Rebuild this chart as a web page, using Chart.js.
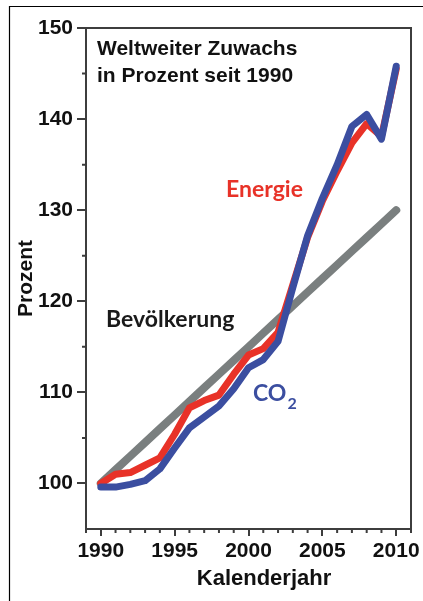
<!DOCTYPE html>
<html>
<head>
<meta charset="utf-8">
<script src="https://cdn.jsdelivr.net/npm/chart.js@4/dist/chart.umd.min.js"></script>
<style>
  html, body { margin: 0; padding: 0; background: #fff; }
  #wrap { width: 423px; height: 601px; }
</style>
</head>
<body>
<div id="wrap"><canvas id="c" width="423" height="601"></canvas></div>
<script>
// ---- data ----
const years = [1990,1991,1992,1993,1994,1995,1996,1997,1998,1999,2000,2001,2002,2003,2004,2005,2006,2007,2008,2009,2010];
const bevoelkerung = [100.0,101.5,103.0,104.5,106.0,107.5,109.0,110.5,112.0,113.5,115.0,116.5,118.0,119.5,121.0,122.5,124.0,125.5,127.0,128.5,130.0];
const energie = [100.0,101.0,101.2,102.0,102.8,105.4,108.3,109.1,109.7,112.0,114.1,114.8,116.6,121.8,127.0,131.0,134.3,137.4,139.5,138.1,145.5];
const co2 = [99.6,99.6,99.9,100.3,101.6,103.9,106.1,107.3,108.5,110.4,112.7,113.6,115.6,121.5,127.2,131.3,135.0,139.2,140.5,137.8,145.8];
const xTickValues = [1990,1995,2000,2005,2010];
const yTickValues = [100,110,120,130,140,150];
const xMinorValues = [1989,1991,1992,1993,1994,1996,1997,1998,1999,2001,2002,2003,2004,2006,2007,2008,2009,2011];
const yMinorValues = [105,115,125,135,145];

const FRAME = '#3d3d3d';
const TICKFONT = { family: "'Liberation Sans', Arial, sans-serif", size: 21, weight: 'bold' };

const toXY = (vals) => years.map((y, i) => ({ x: y, y: vals[i] }));

const overlay = {
  id: 'overlay',
  beforeDraw(chart) {
    const ctx = chart.ctx;
    ctx.save();
    ctx.fillStyle = '#fff';
    ctx.fillRect(0, 0, chart.width, chart.height);
    ctx.restore();
  },
  afterDraw(chart) {
    const ctx = chart.ctx;
    const a = chart.chartArea;
    const xs = chart.scales.x, ys = chart.scales.y;
    ctx.save();
    // outer frame (top + left)
    ctx.strokeStyle = '#000';
    ctx.lineWidth = 1.2;
    ctx.beginPath();
    ctx.moveTo(9.5, 601); ctx.lineTo(9.5, 6.5); ctx.lineTo(423, 6.5);
    ctx.stroke();
    // plot frame top + right
    ctx.strokeStyle = FRAME;
    ctx.lineWidth = 2;
    ctx.beginPath();
    ctx.moveTo(a.left, a.top); ctx.lineTo(a.right, a.top); ctx.lineTo(a.right, a.bottom);
    ctx.stroke();
    // minor ticks
    ctx.lineWidth = 2;
    ctx.beginPath();
    xMinorValues.forEach(v => {
      const px = xs.getPixelForValue(v);
      ctx.moveTo(px, a.bottom); ctx.lineTo(px, a.bottom + 4);
    });
    yMinorValues.forEach(v => {
      const py = ys.getPixelForValue(v);
      ctx.moveTo(a.left, py); ctx.lineTo(a.left - 4, py);
    });
    ctx.stroke();

    // header text
    ctx.fillStyle = '#111';
    ctx.textBaseline = 'alphabetic';
    ctx.textAlign = 'left';
    ctx.font = "bold 21px 'Liberation Sans', Arial, sans-serif";
    ctx.fillText('Weltweiter Zuwachs', 97, 55);
    ctx.fillText('in Prozent seit 1990', 97, 82);

    // x axis title
    ctx.textAlign = 'center';
    ctx.font = "bold 22px 'Liberation Sans', Arial, sans-serif";
    ctx.fillText('Kalenderjahr', 264, 585);

    // series labels
    ctx.textAlign = 'left';
    ctx.font = "bold 23px Lato, 'Open Sans', sans-serif";
    ctx.fillStyle = 'rgb(232,50,40)';
    ctx.fillText('Energie', 226, 197);
    ctx.fillStyle = '#1a1a1a';
    ctx.fillText('Bevölkerung', 106, 327);
    ctx.fillStyle = 'rgb(59,78,160)';
    ctx.fillText('CO', 253, 401);
    const w = ctx.measureText('CO').width;
    ctx.font = "bold 16px Lato, 'Open Sans', sans-serif";
    ctx.fillText('2', 253 + w + 1, 409);
    ctx.restore();
  }
};

new Chart(document.getElementById('c'), {
  type: 'line',
  data: {
    datasets: [
      { label: 'Bevölkerung', data: toXY(bevoelkerung), borderColor: 'rgb(122,127,127)', borderWidth: 8, order: 3 },
      { label: 'Energie', data: toXY(energie), borderColor: 'rgb(232,50,40)', borderWidth: 7, order: 2 },
      { label: 'CO2', data: toXY(co2), borderColor: 'rgb(59,78,160)', borderWidth: 7, order: 1 }
    ]
  },
  options: {
    responsive: false,
    animation: false,
    devicePixelRatio: 1,
    layout: { padding: { top: 28, right: 9, left: 9, bottom: 0 } },
    elements: {
      point: { radius: 0 },
      line: { tension: 0, borderCapStyle: 'round', borderJoinStyle: 'round' }
    },
    plugins: { legend: { display: false }, tooltip: { enabled: false }, title: { display: false } },
    scales: {
      x: {
        type: 'linear',
        min: 1989, max: 2011,
        afterBuildTicks: (s) => { s.ticks = xTickValues.map(v => ({ value: v })); },
        afterFit: (s) => { s.height = 72; },
        grid: { drawOnChartArea: false, drawTicks: true, tickLength: 7, color: FRAME, lineWidth: 2 },
        border: { display: true, color: FRAME, width: 2 },
        ticks: { color: '#111', font: TICKFONT, padding: 3, maxRotation: 0, autoSkip: false, callback: (v) => String(v) }
      },
      y: {
        type: 'linear',
        min: 95, max: 150,
        afterBuildTicks: (s) => { s.ticks = yTickValues.map(v => ({ value: v })); },
        afterFit: (s) => { s.width = 77; },
        grid: { drawOnChartArea: false, drawTicks: true, tickLength: 9, color: FRAME, lineWidth: 2 },
        border: { display: true, color: FRAME, width: 2 },
        ticks: { color: '#111', font: TICKFONT, padding: 4, autoSkip: false, callback: (v) => String(v) },
        title: { display: true, text: 'Prozent', color: '#111', font: { family: "'Liberation Sans', Arial, sans-serif", size: 21, weight: 'bold' }, padding: { top: 5, bottom: 0 } }
      }
    }
  },
  plugins: [overlay]
});
</script>
</body>
</html>
